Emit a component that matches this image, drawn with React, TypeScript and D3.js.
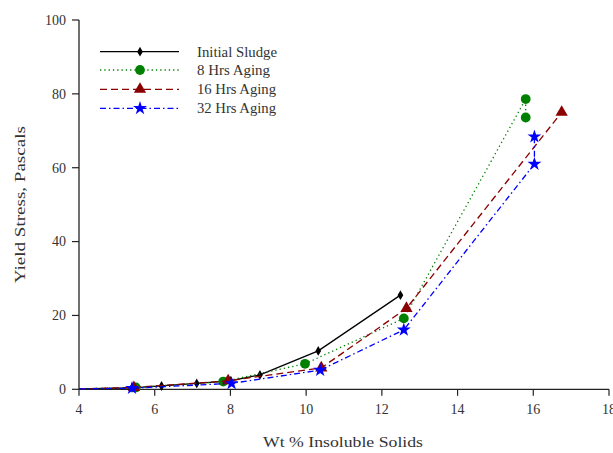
import React from "react";
import * as d3 from "d3";

const W = 613;
const H = 453;

const xTicks = [4, 6, 8, 10, 12, 14, 16, 18];
const yTicks = [0, 20, 40, 60, 80, 100];

const initialX = [4, 5.4, 6.18, 7.11, 8.0, 8.78, 10.32, 12.49];
const initialY = [0.1, 0.4, 0.9, 1.6, 2.3, 3.9, 10.4, 25.5];

const h8X = [4, 5.5, 7.81, 9.97, 12.58, 15.8, 15.8];
const h8Y = [0.1, 0.5, 2.1, 6.9, 19.2, 78.6, 73.6];

const h16X = [4, 5.45, 7.94, 10.4, 12.65, 16.75];
const h16Y = [0.1, 0.5, 2.3, 5.8, 21.9, 75.0];

const h32X = [4, 5.4, 8.03, 10.37, 12.58, 16.03, 16.03];
const h32Y = [0.1, 0.3, 1.6, 5.2, 16.1, 61.0, 68.4];

const seriesNames = ["Initial Sludge", "8 Hrs Aging", "16 Hrs Aging", "32 Hrs Aging"];

type Series = {
  name: string;
  xs: number[];
  ys: number[];
  color: string;
  dash: string;
  marker: "diamond" | "circle" | "triangle" | "star";
  textW: number;
};

const series: Series[] = [
  { name: seriesNames[0], xs: initialX, ys: initialY, color: "#000000", dash: "none", marker: "diamond", textW: 80 },
  { name: seriesNames[1], xs: h8X, ys: h8Y, color: "#008000", dash: "1.3,3", marker: "circle", textW: 73 },
  { name: seriesNames[2], xs: h16X, ys: h16Y, color: "#8B0000", dash: "7,4", marker: "triangle", textW: 79 },
  { name: seriesNames[3], xs: h32X, ys: h32Y, color: "#0000FF", dash: "6,3,1.5,3", marker: "star", textW: 79 },
];

const FONT = "'Liberation Serif', 'Times New Roman', serif";
const TXT = "#333";

function markerPath(kind: Series["marker"]): string {
  const sym =
    kind === "diamond"
      ? d3.symbolDiamond
      : kind === "circle"
      ? d3.symbolCircle
      : kind === "triangle"
      ? d3.symbolTriangle
      : d3.symbolStar;
  const size = kind === "diamond" ? 28 : kind === "circle" ? 75 : kind === "triangle" ? 65 : 60;
  return d3.symbol(sym, size)() as string;
}

export default function App() {
  const x = d3.scaleLinear().domain([4, 18]).range([79, 609]);
  const y = d3.scaleLinear().domain([0, 100]).range([389.3, 20]);

  const line = d3
    .line<[number, number]>()
    .x((d) => x(d[0]))
    .y((d) => y(d[1]));

  const legendRows = [51.7, 70, 89.3, 108.3];

  return (
    <svg
      width={W}
      height={H}
      style={{ position: "absolute", left: 0, top: 0, background: "#fff" }}
      fontFamily={FONT}
    >
      <rect x={0} y={0} width={W} height={H} fill="#fff" />
      {/* axes */}
      <line x1={x(4)} x2={x(4)} y1={y(0)} y2={y(100)} stroke="#222" strokeWidth={1.3} />
      <line x1={x(4)} x2={x(18)} y1={y(0)} y2={y(0)} stroke="#222" strokeWidth={1.3} />
      {yTicks.map((t) => (
        <g key={"y" + t}>
          <line x1={x(4) - 7} x2={x(4)} y1={y(t)} y2={y(t)} stroke="#222" strokeWidth={1.2} />
          <text x={66} y={y(t)} dy="0.35em" textAnchor="end" fontSize={14} fill={TXT}>
            {t}
          </text>
        </g>
      ))}
      {xTicks.map((t) => (
        <g key={"x" + t}>
          <line x1={x(t)} x2={x(t)} y1={y(0)} y2={y(0) + 6.5} stroke="#222" strokeWidth={1.2} />
          <text x={x(t)} y={409} dy="0.35em" textAnchor="middle" fontSize={14} fill={TXT}>
            {t}
          </text>
        </g>
      ))}
      <text
        x={343}
        y={442}
        dy="0.35em"
        textAnchor="middle"
        fontSize={15}
        fill={TXT}
        textLength={160}
        lengthAdjust="spacingAndGlyphs"
      >
        Wt % Insoluble Solids
      </text>
      <text
        transform={`translate(20,${(y(0) + y(100)) / 2}) rotate(-90)`}
        dy="0.35em"
        textAnchor="middle"
        fontSize={15}
        fill={TXT}
        textLength={157}
        lengthAdjust="spacingAndGlyphs"
      >
        Yield Stress, Pascals
      </text>

      {/* series */}
      {series.map((s) => {
        const pts: [number, number][] = s.xs.map((v, i) => [v, s.ys[i]]);
        return (
          <g key={s.name}>
            <path
              d={line(pts) as string}
              fill="none"
              stroke={s.color}
              strokeWidth={1.3}
              strokeDasharray={s.dash}
            />
            {pts
              .filter((p) => p[0] > 4)
              .map((p, i) => (
                <path
                  key={i}
                  d={markerPath(s.marker)}
                  transform={`translate(${x(p[0])},${y(p[1])})`}
                  fill={s.color}
                />
              ))}
          </g>
        );
      })}

      {/* legend */}
      {series.map((s, i) => (
        <g key={"lg" + s.name} transform={`translate(0,${legendRows[i]})`}>
          <line x1={100} x2={179} y1={0} y2={0} stroke={s.color} strokeWidth={1.3} strokeDasharray={s.dash} />
          <path d={markerPath(s.marker)} transform="translate(140,0)" fill={s.color} />
          <text
            x={197}
            y={0}
            dy="0.35em"
            fontSize={14}
            fill={TXT}
            textLength={s.textW}
            lengthAdjust="spacingAndGlyphs"
          >
            {s.name}
          </text>
        </g>
      ))}
    </svg>
  );
}
